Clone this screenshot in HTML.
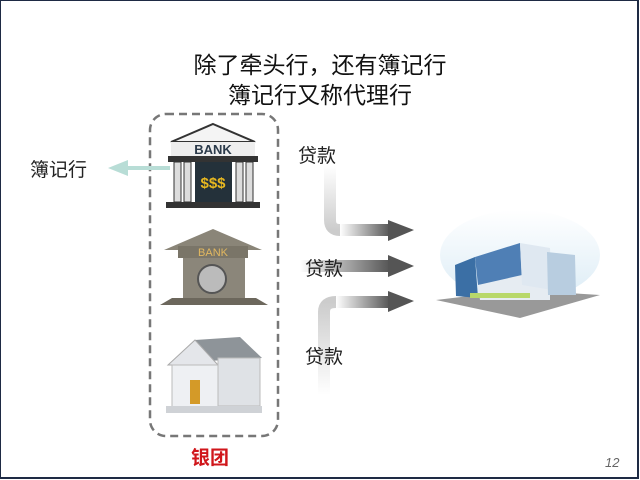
<!DOCTYPE html><html><head><meta charset="utf-8"><style>
body{margin:0;width:640px;height:480px;overflow:hidden;background:#fff;font-family:"Liberation Sans","Noto Sans CJK SC",sans-serif}
.f{position:absolute;left:0;top:0;width:636px;height:476px;border:2px solid #1e2a44;border-top:1px solid #1e2a44;border-left:1px solid #1e2a44}
.t{position:absolute;left:0;width:640px;text-align:center;font-size:23px;color:#111}
.l{position:absolute;font-size:19px;color:#222;z-index:2}
</style></head><body>
<div class="f"></div>
<svg width="640" height="480" style="position:absolute;left:0;top:0">
<defs>
<linearGradient id="g1" x1="0" y1="0" x2="1" y2="0"><stop offset="0" stop-color="#fff"/><stop offset="1" stop-color="#555"/></linearGradient>
<linearGradient id="gv" x1="0" y1="0" x2="0" y2="1"><stop offset="0" stop-color="#fff"/><stop offset="1" stop-color="#ccc"/></linearGradient>
<linearGradient id="gv2" x1="0" y1="1" x2="0" y2="0"><stop offset="0" stop-color="#fff"/><stop offset="1" stop-color="#ccc"/></linearGradient>
<linearGradient id="sky" x1="0" y1="0" x2="0" y2="1"><stop offset="0" stop-color="#fff"/><stop offset="1" stop-color="#cde4f2"/></linearGradient>
</defs>
<rect x="150" y="114" width="128" height="322" rx="16" fill="none" stroke="#777" stroke-width="2.5" stroke-dasharray="8,5"/>
<line x1="170" y1="168" x2="125" y2="168" stroke="#b8ddd6" stroke-width="4"/>
<polygon points="108,168 128,160 128,176" fill="#b8ddd6"/>
<path d="M330 166 V220 Q330 230 340 230 H390" fill="none" stroke="url(#gv)" stroke-width="12"/>
<rect x="340" y="224" width="50" height="12" fill="url(#g1)"/>
<polygon points="388,220 414,230 388,241" fill="#555"/>
<rect x="300" y="260" width="90" height="12" fill="url(#g1)"/>
<polygon points="388,255 414,266 388,277" fill="#555"/>
<path d="M324 395 V312 Q324 302 336 302 H390" fill="none" stroke="url(#gv2)" stroke-width="12"/>
<rect x="336" y="296" width="54" height="12" fill="url(#g1)"/>
<polygon points="388,291 414,301 388,312" fill="#555"/>
<polygon points="213,124 255,142 171,142" fill="#f4f4f4" stroke="#333" stroke-width="2"/>
<rect x="171" y="142" width="84" height="14" fill="#eee"/><text x="213" y="154" text-anchor="middle" font-size="13" font-weight="bold" fill="#2b3a4a" font-family="Liberation Sans">BANK</text>
<rect x="168" y="156" width="90" height="6" fill="#333"/>
<rect x="195" y="162" width="37" height="40" fill="#24313a"/>
<text x="213" y="188" text-anchor="middle" font-size="15" font-weight="bold" fill="#e8b820" font-family="Liberation Sans">$$$</text>
<rect x="174" y="162" width="7" height="40" fill="#ddd" stroke="#333"/><rect x="184" y="162" width="7" height="40" fill="#ddd" stroke="#333"/>
<rect x="236" y="162" width="7" height="40" fill="#ddd" stroke="#333"/><rect x="246" y="162" width="7" height="40" fill="#ddd" stroke="#333"/>
<rect x="166" y="202" width="94" height="6" fill="#333"/>
<polygon points="213,229 262,250 164,250" fill="#8a8578"/>
<rect x="178" y="246" width="70" height="12" fill="#7a7568"/><text x="213" y="256" text-anchor="middle" font-size="11" fill="#e2b860" font-family="Liberation Sans">BANK</text>
<rect x="183" y="258" width="62" height="40" fill="#8b867a"/>
<circle cx="212" cy="279" r="14" fill="#bbb" stroke="#555" stroke-width="2"/>
<polygon points="172,298 256,298 268,305 160,305" fill="#6c675c"/>
<polygon points="195,340 240,337 262,358 190,362" fill="#8e9499"/>
<polygon points="168,365 195,340 218,365" fill="#e4e6ea" stroke="#aaa"/>
<rect x="172" y="365" width="46" height="42" fill="#eef0f3" stroke="#bbb"/>
<rect x="218" y="358" width="42" height="48" fill="#dfe2e6" stroke="#bbb"/>
<rect x="190" y="380" width="10" height="24" fill="#d49a28"/>
<rect x="166" y="406" width="96" height="7" fill="#cfd2d6"/>
<ellipse cx="520" cy="255" rx="80" ry="45" fill="url(#sky)" opacity="0.7"/>
<polygon points="436,300 520,318 600,295 520,290" fill="#999"/>
<polygon points="455,265 475,257 478,298 456,296" fill="#3b6fa5"/>
<polygon points="475,257 520,243 522,280 478,285" fill="#4f7fb5"/>
<polygon points="478,285 522,275 550,278 550,300 480,300" fill="#e6ecf2"/>
<polygon points="520,243 550,248 552,290 522,285" fill="#dfe8f1"/>
<polygon points="547,252 575,255 576,295 548,295" fill="#b8cde0"/>
<rect x="470" y="293" width="60" height="5" fill="#b8d86a"/>
</svg>
<div class="t" style="top:46px">除了牵头行，还有簿记行</div>
<div class="t" style="top:76px">簿记行又称代理行</div>
<div class="l" style="left:30px;top:155px">簿记行</div>
<div class="l" style="left:298px;top:141px">贷款</div>
<div class="l" style="left:305px;top:254px">贷款</div>
<div class="l" style="left:305px;top:342px">贷款</div>
<div class="l" style="left:191px;top:443px;color:#d0161b;font-weight:bold">银团</div>
<div style="position:absolute;left:605px;top:455px;font-size:13px;color:#666;font-style:italic">12</div>
</body></html>
